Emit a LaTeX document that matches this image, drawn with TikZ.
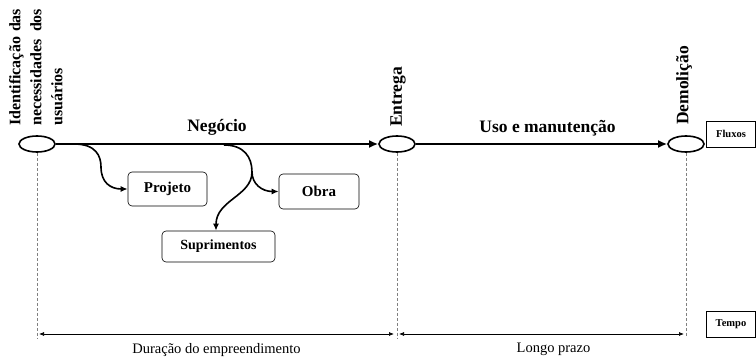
\documentclass[tikz,border=0pt]{standalone}
\usepackage{fontspec}
\setmainfont{Liberation Serif}
\usetikzlibrary{shapes.geometric,arrows.meta}
\begin{document}
\begin{tikzpicture}[x=1pt,y=-1pt,
  ev/.style={draw, ellipse, line width=1.6pt, minimum width=36pt, minimum height=16pt, inner sep=0},
  box/.style={draw, rounded corners=4pt, line width=0.6pt, font=\fontsize{15}{17}\selectfont\bfseries, inner sep=0},
  flow/.style={line width=2.6pt, -{Latex[length=9pt,width=8pt]}},
  branch/.style={line width=1.6pt, -{Latex[length=7pt,width=6pt]}},
  vlab/.style={rotate=90, anchor=west, inner sep=0, font=\fontsize{17.5}{20}\selectfont\bfseries},
  guide/.style={gray, densely dashed, line width=0.6pt},
  span/.style={line width=0.7pt, {Latex[length=5pt,width=4pt]}-{Latex[length=5pt,width=4pt]}},
  tag/.style={draw, line width=0.6pt, font=\fontsize{10.5}{12}\selectfont\bfseries, inner sep=0, minimum width=49pt, minimum height=26pt},
  lab/.style={font=\fontsize{17.5}{20}\selectfont\bfseries, inner sep=0},
  tlab/.style={font=\fontsize{14.5}{16}\selectfont, inner sep=0}
]
\useasboundingbox (0,0) rectangle (756,358);

% events
\node[ev] (e1) at (37,144) {};
\node[ev] (e2) at (397,144) {};
\node[ev] (e3) at (686,144) {};

% vertical labels
\node[rotate=90, anchor=north west, inner sep=0, text width=117pt, align=justify,
      font=\fontsize{16}{21}\selectfont\bfseries] (lid) at (9,126)
  {Identificação das necessidades dos usuários};
\node[vlab] (lent) at (398,127) {Entrega};
\node[vlab] (ldem) at (684,125) {Demolição};

% flows
\draw[flow] (e1) -- (e2) node[lab, midway, above=7pt] (lneg) {Negócio};
\draw[flow] (e2) -- (e3) node[lab, midway, above=7pt, xshift=6pt] (luso) {Uso e manutenção};

% boxes
\node[box, minimum width=79pt, minimum height=34pt] (proj) at (167.5,189) {Projeto};
\node[box, minimum width=80pt, minimum height=35pt] (obra) at (319,191.5) {Obra};
\node[box, minimum width=113pt, minimum height=31pt, font=\fontsize{14}{16}\selectfont\bfseries] (sup) at (218.5,246.5) {Suprimentos};

% branches
\coordinate (b1) at (74,144);
\coordinate (b2) at (224,145);
\coordinate (j2) at (252,172);
\draw[branch] (b1) .. controls (96,144) and (101,156) .. (101,167)
                   .. controls (101,182) and (110,189) .. (proj.west);
\draw[line width=1.6pt] (b2) .. controls (244,145) and (252,157) .. (j2);
\draw[branch] (j2) .. controls (252,184) and (262,191.5) .. (obra.west);
\draw[branch] (j2) .. controls (252,196) and (216,200) .. (sup.north -| 216,0);

% tags
\node[tag] (flux) at (731,134) {Fluxos};
\node[tag] (tempo) at (731,324) {Tempo};

% guides
\coordinate (g1) at (37,338);
\coordinate (g2) at (397,338);
\coordinate (g3) at (686,336);
\draw[guide] (e1.south) -- (g1);
\draw[guide] (e2.south) -- (g2);
\draw[guide] (e3.south) -- (g3);

% spans
\coordinate (s1a) at (39,334);
\coordinate (s1b) at (394,334);
\coordinate (s2a) at (399,334);
\coordinate (s2b) at (684,334);
\draw[span] (s1a) -- (s1b) node[tlab, midway, below=9pt] (ldur) {Duração do empreendimento};
\draw[span] (s2a) -- (s2b) node[tlab, midway, below=9pt, xshift=12pt] (llon) {Longo prazo};
\end{tikzpicture}
\end{document}
